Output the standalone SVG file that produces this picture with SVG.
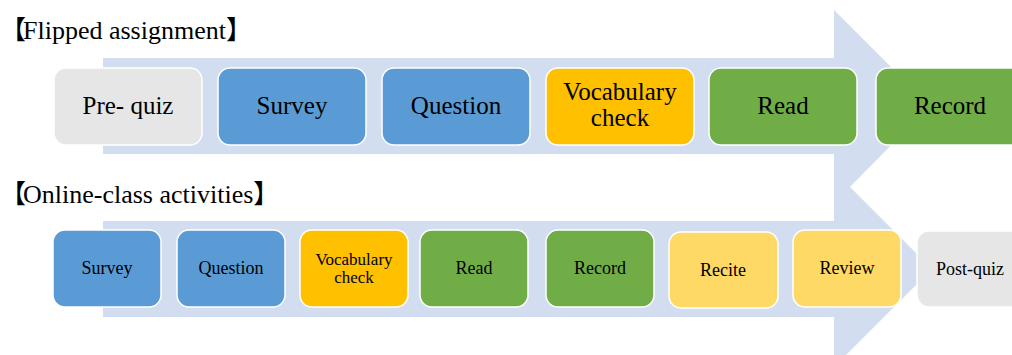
<svg xmlns="http://www.w3.org/2000/svg" width="1012" height="355" viewBox="0 0 1012 355">
<style>
.bg{fill:#ffffff}
.arrow{fill:#D2DEEF}
.box{stroke:#ffffff;stroke-width:1.5}
.gray{fill:#E6E6E6}
.blue{fill:#5B9BD5}
.gold{fill:#FFC000}
.green{fill:#70AD47}
.lgold{fill:#FFD966}
text{font-family:"Liberation Serif","Times New Roman",serif;fill:#000;text-anchor:middle}
.t1{font-size:25px}
.t2{font-size:18px}
.title{font-size:26px;text-anchor:start}
.cjk{font-family:"Noto Sans CJK JP","Noto Sans CJK SC",sans-serif}
</style>
<rect class="bg" x="0" y="0" width="1012" height="355"/>
<g id="connectors">
<polygon class="arrow" points="103,58 834,58 834,10 930,106 834,203 834,154 103,154"/>
<polygon class="arrow" points="103,221 834,221 834,171 932,269 834,367 834,317 103,317"/>
</g>
<text class="title" x="0" y="39"><tspan class="cjk">【</tspan><tspan x="23">Flipped assignment</tspan><tspan class="cjk">】</tspan></text>
<text class="title" x="0" y="203"><tspan class="cjk">【</tspan><tspan x="23">Online-class activities</tspan><tspan class="cjk">】</tspan></text>
<g id="f-prequiz"><rect class="box gray" x="54" y="68" width="148" height="77" rx="12"/><text class="t1" x="128" y="114">Pre- quiz</text></g>
<g id="f-survey"><rect class="box blue" x="218" y="68" width="148" height="77" rx="12"/><text class="t1" x="292" y="114">Survey</text></g>
<g id="f-question"><rect class="box blue" x="382" y="68" width="148" height="77" rx="12"/><text class="t1" x="456" y="114">Question</text></g>
<g id="f-vocab"><rect class="box gold" x="546" y="68" width="148" height="77" rx="12"/><text class="t1" x="620" y="100">Vocabulary</text><text class="t1" x="620" y="126">check</text></g>
<g id="f-read"><rect class="box green" x="709" y="68" width="148" height="77" rx="12"/><text class="t1" x="783" y="114">Read</text></g>
<g id="f-record"><rect class="box green" x="876" y="68" width="148" height="77" rx="12"/><text class="t1" x="950" y="114">Record</text></g>
<g id="o-survey"><rect class="box blue" x="53" y="230" width="108" height="77" rx="12"/><text class="t2" x="107" y="274">Survey</text></g>
<g id="o-question"><rect class="box blue" x="177" y="230" width="108" height="77" rx="12"/><text class="t2" x="231" y="274">Question</text></g>
<g id="o-vocab"><rect class="box gold" x="300" y="230" width="108" height="77" rx="12"/><text class="t2" x="354" y="265" style="font-size:17px">Vocabulary</text><text class="t2" x="354" y="283" style="font-size:17px">check</text></g>
<g id="o-read"><rect class="box green" x="420" y="230" width="108" height="77" rx="12"/><text class="t2" x="474" y="274">Read</text></g>
<g id="o-record"><rect class="box green" x="546" y="230" width="108" height="77" rx="12"/><text class="t2" x="600" y="274">Record</text></g>
<g id="o-recite"><rect class="box lgold" x="669" y="232" width="109" height="76" rx="12"/><text class="t2" x="723" y="276">Recite</text></g>
<g id="o-review"><rect class="box lgold" x="793" y="230" width="108" height="77" rx="12"/><text class="t2" x="847" y="274">Review</text></g>
<g id="o-postquiz"><rect class="box gray" x="917" y="231" width="108" height="76" rx="12"/><text class="t2" x="970" y="275">Post-quiz</text></g>
</svg>
